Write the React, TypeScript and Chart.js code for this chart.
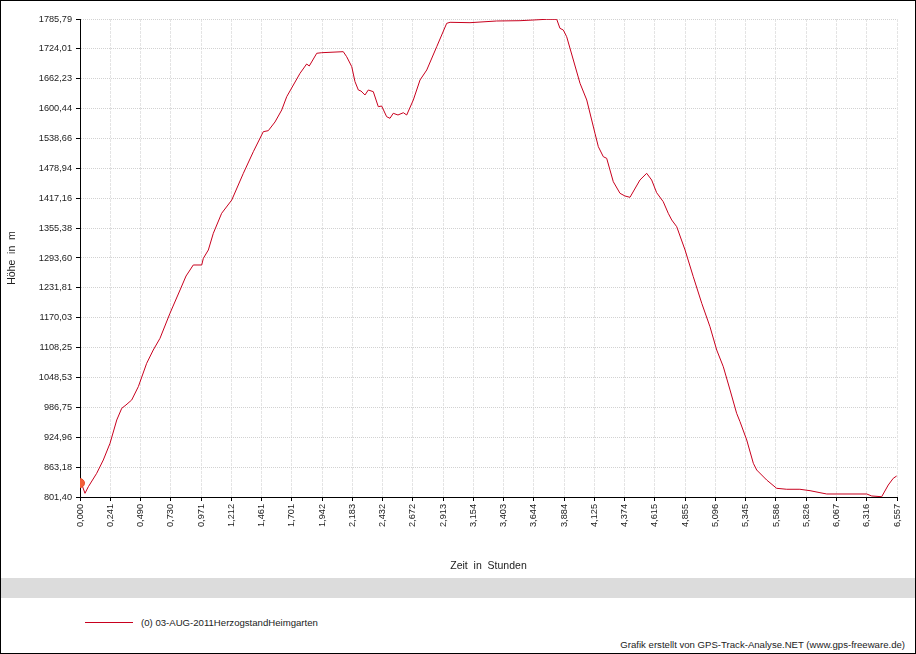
import React, { useEffect, useRef } from 'react';
import { Chart, registerables } from 'chart.js';

Chart.register(...registerables);

// Elevation track (hours, metres)
const hours = [
  0.002, 0.040, 0.067, 0.134, 0.187, 0.241, 0.295, 0.335, 0.369, 0.415,
  0.468, 0.535, 0.588, 0.642, 0.722, 0.803, 0.851, 0.883, 0.909, 0.977,
  0.990, 1.030, 1.070, 1.137, 1.218, 1.311, 1.391, 1.471, 1.511, 1.565,
  1.619, 1.659, 1.766, 1.819, 1.840, 1.900, 1.940, 2.113, 2.140, 2.181,
  2.207, 2.234, 2.255, 2.287, 2.314, 2.354, 2.394, 2.421, 2.461, 2.488,
  2.514, 2.552, 2.595, 2.622, 2.675, 2.729, 2.783, 2.863, 2.943, 2.970,
  3.130, 3.344, 3.531, 3.638, 3.746, 3.826, 3.852, 3.879, 3.906, 4.013,
  4.067, 4.133, 4.160, 4.200, 4.227, 4.280, 4.334, 4.374, 4.414, 4.494,
  4.548, 4.588, 4.628, 4.681, 4.721, 4.749, 4.789, 4.856, 4.922, 4.990,
  5.056, 5.110, 5.163, 5.217, 5.270, 5.297, 5.351, 5.404, 5.431, 5.511,
  5.591, 5.672, 5.778, 5.859, 5.939, 5.993, 6.314, 6.354, 6.434, 6.487,
  6.527, 6.554,
];
const elevation = [
  836.4, 809.0, 822.6, 850.2, 877.6, 912.0, 960.0, 984.1, 990.9, 1001.2,
  1028.6, 1076.7, 1104.1, 1128.2, 1179.7, 1227.7, 1256.5, 1268.9, 1279.2, 1279.2,
  1293.0, 1310.1, 1344.5, 1385.7, 1413.0, 1468.0, 1512.5, 1553.7, 1555.8, 1573.7,
  1598.4, 1625.8, 1674.0, 1693.1, 1689.0, 1715.2, 1716.4, 1718.5, 1708.2, 1687.6,
  1656.7, 1639.6, 1637.5, 1629.3, 1639.6, 1636.1, 1605.2, 1606.6, 1584.6, 1581.3,
  1591.6, 1588.1, 1592.8, 1588.1, 1619.0, 1660.2, 1680.8, 1728.8, 1776.9, 1779.0,
  1778.2, 1781.7, 1782.3, 1783.7, 1785.2, 1785.2, 1766.6, 1763.1, 1749.3, 1653.4,
  1619.0, 1550.4, 1522.8, 1502.2, 1498.9, 1450.7, 1426.8, 1421.3, 1418.6, 1454.2,
  1468.0, 1454.2, 1428.1, 1409.5, 1385.7, 1371.9, 1358.1, 1310.1, 1255.1, 1200.3,
  1152.1, 1104.1, 1069.7, 1021.8, 973.8, 956.5, 918.8, 870.8, 857.0, 836.4,
  819.3, 817.3, 817.3, 814.4, 810.3, 807.6, 807.6, 803.5, 802.0, 826.1,
  839.9, 844.6,
];
const startHours = [0];
const startElevation = [830];

const xTickLabels = [
  '0,000', '0,241', '0,490', '0,730', '0,971', '1,212', '1,461', '1,701', '1,942', '2,183',
  '2,432', '2,672', '2,913', '3,154', '3,403', '3,644', '3,884', '4,125', '4,374', '4,615',
  '4,855', '5,096', '5,345', '5,586', '5,826', '6,067', '6,316', '6,557',
];
const yTickLabels = [
  '801,40', '863,18', '924,96', '986,75', '1048,53', '1108,25', '1170,03', '1231,81', '1293,60',
  '1355,38', '1417,16', '1478,94', '1538,66', '1600,44', '1662,23', '1724,01', '1785,79',
];
const xMin = 0;
const xMax = 6.557;
const yMin = 801.4;
const yMax = 1785.79;

const seriesName = '(0) 03-AUG-2011HerzogstandHeimgarten';
const xTitle = 'Zeit  in  Stunden';
const yTitle = 'Höhe  in  m';
const credits = 'Grafik erstellt von GPS-Track-Analyse.NET (www.gps-freeware.de)';

const FONT = '"Liberation Sans", Arial, Helvetica, sans-serif';
const LINE_COLOR = '#c8001e';

export default function App() {
  const canvasRef = useRef<HTMLCanvasElement | null>(null);

  useEffect(() => {
    if (!canvasRef.current) return;
    const track = hours.map((h, i) => ({ x: h, y: elevation[i] }));
    const start = startHours.map((h, i) => ({ x: h, y: startElevation[i] }));
    const chart = new Chart(canvasRef.current, {
      type: 'scatter',
      data: {
        datasets: [
          {
            label: 'start',
            data: start,
            showLine: false,
            pointRadius: 4.5,
            pointBackgroundColor: '#f2603a',
            pointBorderColor: '#e84a2a',
            pointBorderWidth: 1,
            clip: 0,
          },
          {
            label: seriesName,
            data: track,
            showLine: true,
            borderColor: LINE_COLOR,
            borderWidth: 1,
            pointRadius: 0,
            tension: 0,
            fill: false,
          },
        ],
      },
      options: {
        responsive: false,
        animation: false,
        events: [],
        layout: { padding: { left: 0, top: 19, right: 19, bottom: 0 } },
        plugins: {
          legend: { display: false },
          tooltip: { enabled: false },
          title: { display: false },
        },
        scales: {
          x: {
            type: 'linear',
            min: xMin,
            max: xMax,
            afterBuildTicks: (scale: any) => {
              scale.ticks = xTickLabels.map((_, i) => ({
                value: xMin + (i * (xMax - xMin)) / (xTickLabels.length - 1),
              }));
            },
            afterFit: (scale: any) => {
              scale.height = 81;
            },
            ticks: {
              autoSkip: false,
              maxRotation: 90,
              minRotation: 90,
              padding: 3,
              color: '#222',
              font: { family: FONT, size: 9.2 },
              callback: (_v: any, i: number) => xTickLabels[i],
            },
            grid: {
              color: '#e4e4e4',
              tickColor: '#000',
              tickLength: 4,
              lineWidth: 1,
            },
            border: { display: true, color: '#000', width: 1, dash: [3, 1] },
            title: {
              display: true,
              text: xTitle,
              color: '#222',
              font: { family: FONT, size: 10.5 },
              padding: { top: 0, bottom: 6 },
            },
          },
          y: {
            type: 'linear',
            min: yMin,
            max: yMax,
            afterBuildTicks: (scale: any) => {
              scale.ticks = yTickLabels.map((_, i) => ({
                value: yMin + (i * (yMax - yMin)) / (yTickLabels.length - 1),
              }));
            },
            afterFit: (scale: any) => {
              scale.width = 80;
            },
            ticks: {
              padding: 4,
              color: '#222',
              font: { family: FONT, size: 9.2 },
              callback: (_v: any, i: number) => yTickLabels[i],
            },
            grid: {
              color: '#d2d2d2',
              tickColor: '#000',
              tickLength: 4,
              lineWidth: 1,
            },
            border: { display: true, color: '#000', width: 1, dash: [1, 1] },
            title: {
              display: true,
              text: yTitle,
              color: '#222',
              font: { family: FONT, size: 10.5 },
              padding: { top: 6, bottom: 0 },
            },
          },
        },
      } as any,
    });
    return () => chart.destroy();
  }, []);

  return (
    <div
      style={{
        position: 'absolute',
        left: 0,
        top: 0,
        width: 916,
        height: 654,
        background: '#fff',
        overflow: 'hidden',
        fontFamily: FONT,
      }}
    >
      <canvas
        ref={canvasRef}
        width={916}
        height={578}
        style={{ position: 'absolute', left: 0, top: 0, width: 916, height: 578 }}
      />
      <div
        style={{
          position: 'absolute',
          left: 1,
          top: 578,
          width: 914,
          height: 20,
          background: '#dcdcdc',
        }}
      />
      <div
        style={{
          position: 'absolute',
          left: 85,
          top: 622,
          width: 48,
          height: 1,
          background: LINE_COLOR,
        }}
      />
      <div
        style={{
          position: 'absolute',
          left: 141,
          top: 617,
          fontSize: 9.6,
          lineHeight: '11px',
          color: '#222',
          whiteSpace: 'nowrap',
        }}
      >
        {seriesName}
      </div>
      <div
        style={{
          position: 'absolute',
          right: 11,
          top: 639,
          fontSize: 9.6,
          lineHeight: '11px',
          color: '#222',
          whiteSpace: 'nowrap',
        }}
      >
        {credits}
      </div>
      <div
        style={{
          position: 'absolute',
          left: 0,
          top: 0,
          width: 916,
          height: 654,
          border: '1px solid #000',
          boxSizing: 'border-box',
          pointerEvents: 'none',
        }}
      />
    </div>
  );
}
